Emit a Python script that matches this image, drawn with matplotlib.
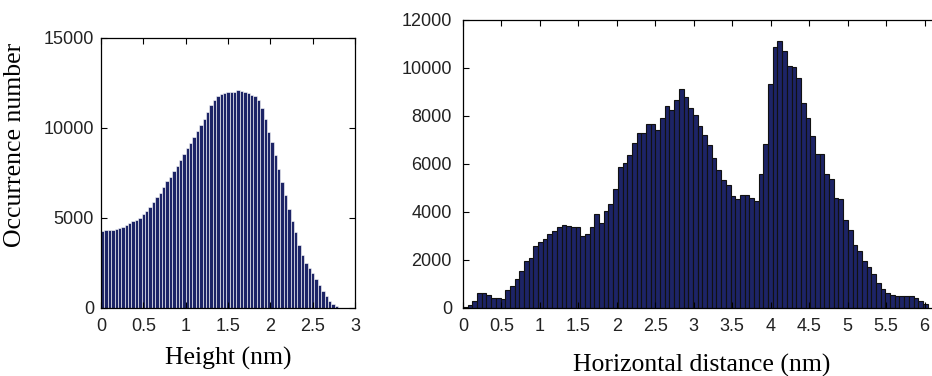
import numpy as np
import matplotlib
matplotlib.use("Agg")
import matplotlib.pyplot as plt

# Histograma de alturas (izquierda): bins de 0.04 nm
altura_ancho = 0.04
altura_cuentas = [4300, 4320, 4330, 4330, 4380, 4450, 4520, 4600, 4700, 4830,
                  4870, 5020, 5210, 5380, 5620, 5890, 6150, 6400, 6750, 7050,
                  7300, 7600, 7900, 8200, 8550, 8900, 9150, 9500, 9850, 10150,
                  10500, 10900, 11250, 11550, 11800, 11900, 11950, 11980, 11990, 12020,
                  12100, 12060, 12000, 11950, 11850, 11780, 11550, 11100, 10500, 9800,
                  9200, 8500, 7700, 7000, 6300, 5500, 4850, 4200, 3500, 2950,
                  2500, 2200, 1950, 1600, 1300, 950, 650, 400, 250, 100]

# Histograma de distancia horizontal (derecha): bins de 0.061 nm
dist_ancho = 0.061
dist_cuentas = [40, 120, 290, 610, 610, 530, 400, 400, 360, 740,
                920, 1220, 1560, 1940, 2070, 2570, 2750, 2875, 3080, 3220,
                3360, 3470, 3400, 3360, 3390, 3000, 3100, 3390, 3920, 3540,
                4040, 4350, 4970, 5890, 6060, 6390, 6890, 7280, 7280, 7650,
                7650, 7420, 7920, 8430, 8230, 8650, 9125, 8780, 8320, 8040,
                7580, 7190, 6800, 6260, 5750, 5320, 5125, 4680, 4540, 4690,
                4690, 4600, 4470, 5570, 6820, 9320, 10860, 11125, 10720, 10080,
                10030, 9570, 8530, 7930, 7170, 6400, 6400, 5580, 5360, 4600,
                4560, 3650, 3235, 2625, 2390, 1960, 1720, 1430, 1030, 790,
                610, 540, 490, 490, 490, 490, 400, 290, 150]

altura_xticks = [0, 0.5, 1, 1.5, 2, 2.5, 3]
altura_yticks = [0, 5000, 10000, 15000]
dist_xticks = [0, 0.5, 1, 1.5, 2, 2.5, 3, 3.5, 4, 4.5, 5, 5.5, 6]
dist_yticks = [0, 2000, 4000, 6000, 8000, 10000, 12000]

azul = "#1d2466"
fuente_ticks = "Liberation Sans"
fuente_labels = "Liberation Serif"

fig = plt.figure(figsize=(9.32, 3.76), dpi=100)

def estilo(ax):
    ax.tick_params(direction="in", top=True, right=True, length=4, width=0.8,
                   labelsize=13, labelcolor="#222222")
    for lab in ax.get_xticklabels() + ax.get_yticklabels():
        lab.set_fontfamily(fuente_ticks)
    for s in ax.spines.values():
        s.set_linewidth(0.9)
        s.set_color("black")

# Grafica izquierda
ax1 = fig.add_axes([101 / 932, 68 / 376, 254 / 932, 270 / 376])
x1 = np.arange(len(altura_cuentas)) * altura_ancho
ax1.bar(x1, altura_cuentas, width=altura_ancho, align="edge", color=azul,
        edgecolor="white", linewidth=0.4)
ax1.set_xlim(0, 3)
ax1.set_ylim(0, 15000)
ax1.set_xticks(altura_xticks)
ax1.set_xticklabels([f"{t:g}" for t in altura_xticks])
ax1.set_yticks(altura_yticks)
estilo(ax1)
ax1.tick_params(axis="y", pad=5)
ax1.tick_params(axis="x", pad=7)
ax1.set_xlabel("Height (nm)", fontsize=18.5, family=fuente_labels, labelpad=9)
ax1.set_ylabel("Occurrence number", fontsize=18.5, family=fuente_labels)
ax1.yaxis.set_label_coords(-0.295, 0.604)

# Grafica derecha (se sale un poco por la derecha, como el original)
ax2 = fig.add_axes([463 / 932, 68 / 376, 477 / 932, 288 / 376])
x2 = np.arange(len(dist_cuentas)) * dist_ancho
ax2.bar(x2, dist_cuentas, width=dist_ancho, align="edge", color=azul,
        edgecolor="#111111", linewidth=0.8)
ax2.set_xlim(0, 6.2)
ax2.set_ylim(0, 12000)
ax2.set_xticks(dist_xticks)
ax2.set_xticklabels([f"{t:g}" for t in dist_xticks])
ax2.set_yticks(dist_yticks)
estilo(ax2)
ax2.tick_params(axis="y", pad=8)
ax2.tick_params(axis="x", pad=7)
ax2.set_xlabel("Horizontal distance (nm)", fontsize=18.5, family=fuente_labels,
               labelpad=14)

fig.savefig("out.png", dpi=100)
